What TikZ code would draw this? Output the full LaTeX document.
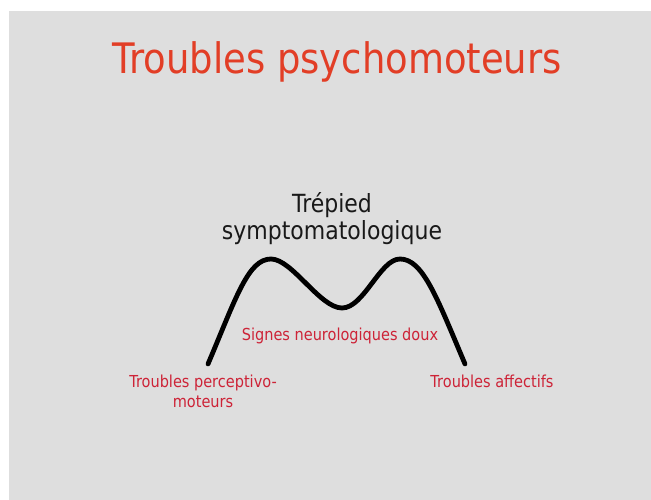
\documentclass[tikz,border=0pt]{standalone}
\usepackage{fontspec}
\setmainfont{DejaVu Sans}[FakeStretch=0.88]
\definecolor{slidebg}{RGB}{222,222,222}
\definecolor{titlered}{RGB}{226,62,38}
\definecolor{labelred}{RGB}{205,35,55}
\definecolor{ink}{RGB}{25,25,25}
\begin{document}
\begin{tikzpicture}[x=1pt,y=-1pt,
  titletext/.style={anchor=base,text=titlered,font=\fontsize{42}{46}\selectfont,inner sep=0pt},
  headtext/.style={anchor=base,text=ink,font=\fontsize{25}{30}\selectfont,inner sep=0pt,align=center},
  lbltext/.style={anchor=base,text=labelred,font=\fontsize{16.5}{20}\selectfont,inner sep=0pt,align=center},
  curve/.style={draw=black,line width=4.8pt,line cap=round}]
\useasboundingbox (0,0) rectangle (651,500);
\fill[white] (0,0) rectangle (651,500);
\fill[slidebg] (9,11) rectangle (651,500);
\node[titletext] (title) at (337,74) {Troubles psychomoteurs};
\node[headtext] (h1) at (332,212) {Trépied};
\node[headtext] (h2) at (332,240) {symptomatologique};
\coordinate (a) at (208,364);
\coordinate (p1) at (271,259);
\coordinate (v) at (342,308);
\coordinate (p2) at (400,259);
\coordinate (b) at (465,364);
\draw[curve] (a) .. controls (236,298) and (248,259) .. (p1)
  .. controls (292,259) and (320,308) .. (v)
  .. controls (364,308) and (380,259) .. (p2)
  .. controls (423,259) and (437,298) .. (b);
\node[lbltext] (sn) at (340,340) {Signes neurologiques doux};
\node[lbltext] (tp1) at (203,387) {Troubles perceptivo-};
\node[lbltext] (tp2) at (203,407) {moteurs};
\node[lbltext] (ta) at (492,387) {Troubles affectifs};
\end{tikzpicture}
\end{document}
